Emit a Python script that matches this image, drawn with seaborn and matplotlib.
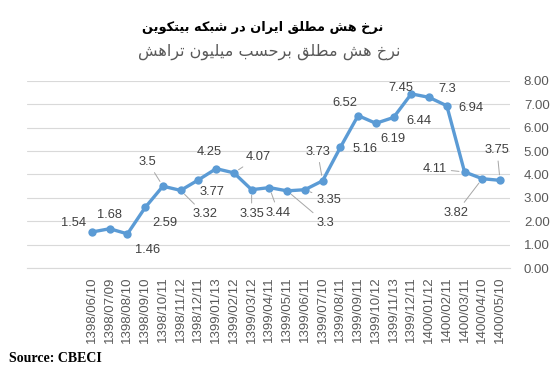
import matplotlib
matplotlib.use('Agg')
import matplotlib.pyplot as plt
import seaborn as sns
import pandas as pd

# data
dates = ['1398/06/10', '1398/07/09', '1398/08/10', '1398/09/10', '1398/10/11', '1398/11/12',
         '1398/12/11', '1399/01/13', '1399/02/12', '1399/03/12', '1399/04/11', '1399/05/11',
         '1399/06/11', '1399/07/10', '1399/08/11', '1399/09/11', '1399/10/12', '1399/11/13',
         '1399/12/11', '1400/01/12', '1400/02/11', '1400/03/11', '1400/04/10', '1400/05/10']
hashrate = [1.54, 1.68, 1.46, 2.59, 3.5, 3.32, 3.77, 4.25, 4.07, 3.35, 3.44, 3.3,
            3.35, 3.73, 5.16, 6.52, 6.19, 6.44, 7.45, 7.3, 6.94, 4.11, 3.82, 3.75]
y_ticks = [0, 1, 2, 3, 4, 5, 6, 7, 8]

title = 'نرخ هش مطلق ایران در شبکه بیتکوین'
subtitle = 'نرخ هش مطلق برحسب میلیون تراهش'
source = 'Source: CBECI'

# label offsets in pixels (dx, dy) and whether a leader line is drawn
label_pos = [(-18, 9, 0), (0, 14, 0), (20, -16, 0), (20, -16, 0), (-15, 24, 1), (24, -24, 1),
             (14, -12, 0), (-7, 17, 0), (24, 16, 1), (0, -24, 1), (9, -25, 1), (38, -32, 1),
             (24, -10, 1), (-5, 29, 1), (25, -2, 0), (-13, 13, 0), (17, -16, 0), (25, -4, 0),
             (-10, 6, 0), (18, 8, 0), (24, -2, 0), (-30, 3, 1), (-26, -34, 1), (-3, 30, 1)]

# matplotlib has no arabic shaping, so do it by hand with presentation forms
FORMS = {
    'ا': ('\uFE8D', '\uFE8E', None, None),
    'ب': ('\uFE8F', '\uFE90', '\uFE91', '\uFE92'),
    'ت': ('\uFE95', '\uFE96', '\uFE97', '\uFE98'),
    'ح': ('\uFEA1', '\uFEA2', '\uFEA3', '\uFEA4'),
    'خ': ('\uFEA5', '\uFEA6', '\uFEA7', '\uFEA8'),
    'د': ('\uFEA9', '\uFEAA', None, None),
    'ر': ('\uFEAD', '\uFEAE', None, None),
    'س': ('\uFEB1', '\uFEB2', '\uFEB3', '\uFEB4'),
    'ش': ('\uFEB5', '\uFEB6', '\uFEB7', '\uFEB8'),
    'ط': ('\uFEC1', '\uFEC2', '\uFEC3', '\uFEC4'),
    'ق': ('\uFED5', '\uFED6', '\uFED7', '\uFED8'),
    'ک': ('\uFB8E', '\uFB8F', '\uFB90', '\uFB91'),
    'ل': ('\uFEDD', '\uFEDE', '\uFEDF', '\uFEE0'),
    'م': ('\uFEE1', '\uFEE2', '\uFEE3', '\uFEE4'),
    'ن': ('\uFEE5', '\uFEE6', '\uFEE7', '\uFEE8'),
    'ه': ('\uFEE9', '\uFEEA', '\uFEEB', '\uFEEC'),
    'و': ('\uFEED', '\uFEEE', None, None),
    'ی': ('\uFBFC', '\uFBFD', '\uFBFE', '\uFBFF'),
}


def shape_fa(text):
    words = []
    for word in text.split(' '):
        out = []
        for i, ch in enumerate(word):
            iso, fin, ini, med = FORMS[ch]
            join_prev = i > 0 and FORMS[word[i - 1]][2] is not None
            join_next = i < len(word) - 1 and ini is not None
            if join_prev and join_next:
                out.append(med)
            elif join_prev:
                out.append(fin)
            elif join_next:
                out.append(ini)
            else:
                out.append(iso)
        words.append(''.join(out))
    return ' '.join(words)[::-1]


df = pd.DataFrame({'x': range(len(dates)), 'value': hashrate})

sns.set_style('white')
plt.rcParams['font.family'] = ['Liberation Sans', 'DejaVu Sans']

fig = plt.figure(figsize=(5.56, 3.71), dpi=100)
ax = fig.add_axes([0.0486, 0.2776, 0.8686, 0.5041])

sns.lineplot(data=df, x='x', y='value', ax=ax, color='#5B9BD5', linewidth=2.4,
             marker='o', markersize=6, markeredgewidth=0, zorder=3)

for i, v in enumerate(hashrate):
    dx, dy, leader = label_pos[i]
    arrow = None
    if leader:
        arrow = dict(arrowstyle='-', color='#A6A6A6', lw=0.7, shrinkA=1, shrinkB=4)
    ax.annotate(f'{v:g}', (i, v), xytext=(dx, dy), textcoords='offset pixels',
                ha='center', va='center', fontsize=9.3, color='#404040',
                arrowprops=arrow, zorder=4)

ax.set_xlim(-3.66, 23.56)
ax.set_ylim(0, 8)
ax.set_xticks(range(len(dates)))
ax.set_xticklabels(dates, rotation=90, fontsize=9.5, color='#595959')
ax.set_yticks(y_ticks)
ax.set_yticklabels([f'{t:.2f}' for t in y_ticks], fontsize=9.5, color='#595959')
ax.yaxis.tick_right()
ax.tick_params(axis='both', length=0, pad=6)
ax.tick_params(axis='y', pad=10)
ax.grid(axis='y', color='#D9D9D9', linewidth=0.8)
ax.set_axisbelow(True)
for s in ['top', 'left', 'right']:
    ax.spines[s].set_visible(False)
ax.spines['bottom'].set_color('#D9D9D9')
ax.set_xlabel('')
ax.set_ylabel('')

fig.text(0.472, 0.925, shape_fa(title), ha='center', va='center', fontsize=9.3,
         fontweight='bold', family=['DejaVu Sans'], color='black')
fig.text(0.485, 0.86, shape_fa(subtitle), ha='center', va='center', fontsize=11.5,
         family=['DejaVu Sans'], color='#595959')
fig.text(0.016, 0.035, source, ha='left', va='center', fontsize=10,
         fontweight='bold', family=['Liberation Serif'], color='black')

fig.savefig('out.png', dpi=100)
